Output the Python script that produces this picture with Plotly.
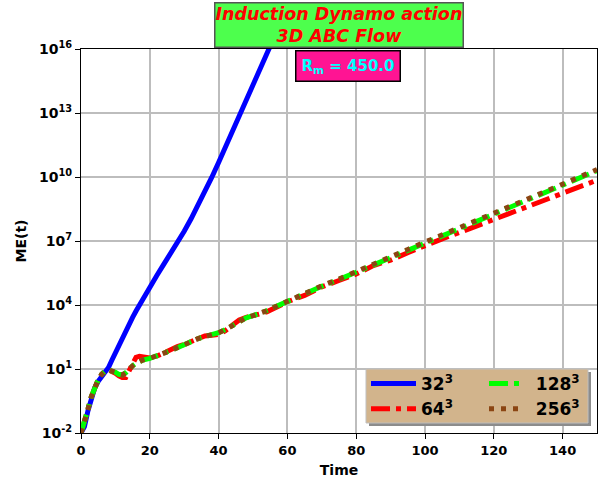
import plotly.graph_objects as go

t_32 = [0, 1, 2, 3, 4, 5, 6, 7, 8, 9, 10, 11, 12, 13, 14, 15, 16, 17, 18, 19, 20,
        22, 24, 26, 28, 30, 32, 34, 36, 38, 40, 42, 44, 46, 48, 50, 52, 54, 56]
log_me_32 = [-2.0, -1.7, -0.97, -0.35, 0.12, 0.42, 0.63, 0.84, 1.07, 1.42, 1.77, 2.12, 2.46,
             2.79, 3.11, 3.42, 3.72, 4.01, 4.29, 4.57, 4.84,
             5.37, 5.89, 6.4, 6.92, 7.46, 8.04, 8.66, 9.31, 9.98, 10.68, 11.4, 12.13,
             12.86, 13.59, 14.32, 15.05, 15.78, 16.5]

t_slow = [0, 1, 2, 3, 4, 5, 6, 7, 8, 9, 10, 11, 12, 13, 14, 15, 16, 17, 18, 20,
          22, 24, 26, 28, 30, 32, 34, 36, 38, 40, 42, 44, 46, 48, 50, 52, 54, 56, 58, 60,
          65, 70, 75, 80, 85, 90, 95, 100, 105, 110, 115, 120, 125, 130, 135, 140, 145, 150]
log_me_64 = [-2.0, -1.5, -0.9, -0.3, 0.15, 0.5, 0.75, 0.9, 0.95, 0.9, 0.8, 0.68, 0.6, 0.6,
             0.9, 1.3, 1.55, 1.6, 1.58, 1.52,
             1.6, 1.75, 1.95, 2.05, 2.15, 2.3, 2.4, 2.55, 2.58, 2.62, 2.8, 3.05, 3.3, 3.42,
             3.48, 3.58, 3.68, 3.85, 4.0, 4.15,
             4.45, 4.85, 5.15, 5.45, 5.85, 6.1, 6.45, 6.8, 7.1, 7.4, 7.7, 8.0, 8.3, 8.6,
             8.9, 9.25, 9.55, 9.85]
log_me_128 = [-2.0, -1.5, -0.9, -0.3, 0.15, 0.5, 0.75, 0.9, 0.95, 0.92, 0.85, 0.75, 0.72,
              0.82, 1.0, 1.15, 1.27, 1.36, 1.42, 1.5,
              1.6, 1.72, 1.86, 2.0, 2.15, 2.3, 2.42, 2.52, 2.6, 2.7, 2.85, 3.05, 3.25, 3.4,
              3.5, 3.6, 3.73, 3.88, 4.03, 4.18,
              4.53, 4.88, 5.2, 5.52, 5.87, 6.22, 6.56, 6.9, 7.23, 7.56, 7.9, 8.25, 8.6,
              8.93, 9.27, 9.62, 9.95, 10.3]
log_me_256 = [-2.0, -1.5, -0.9, -0.3, 0.15, 0.5, 0.75, 0.9, 0.95, 0.92, 0.85, 0.75, 0.72,
              0.82, 1.0, 1.15, 1.27, 1.36, 1.42, 1.5,
              1.6, 1.72, 1.86, 2.0, 2.15, 2.3, 2.42, 2.52, 2.6, 2.7, 2.85, 3.05, 3.25, 3.4,
              3.5, 3.6, 3.73, 3.88, 4.03, 4.18,
              4.55, 4.9, 5.22, 5.55, 5.9, 6.25, 6.6, 6.95, 7.28, 7.6, 7.95, 8.3, 8.65,
              8.98, 9.32, 9.67, 10.0, 10.35]

series_names = ["32<sup>3</sup>", "64<sup>3</sup>", "128<sup>3</sup>", "256<sup>3</sup>"]
y_tick_exps = [-2, 1, 4, 7, 10, 13, 16]
x_tick_vals = [0, 20, 40, 60, 80, 100, 120, 140]

FONT = "DejaVu Sans"
PAD2 = "\u00a0\u00a0"  # spacing between legend symbol and label in 2nd column

def tovals(logs):
    return [10 ** v for v in logs]

DASHDOT = "19px,6px,5px,6px"

fig = go.Figure()
fig.add_trace(go.Scatter(x=t_32, y=tovals(log_me_32), mode="lines", name=series_names[0],
                         line=dict(color="#0000FF", width=5), legend="legend"))
fig.add_trace(go.Scatter(x=t_slow, y=tovals(log_me_64), mode="lines", name=series_names[1],
                         line=dict(color="#FF0000", width=5, dash=DASHDOT),
                         legend="legend"))
fig.add_trace(go.Scatter(x=t_slow, y=tovals(log_me_128), mode="lines",
                         name=PAD2 + series_names[2],
                         line=dict(color="#00FF00", width=5, dash=DASHDOT),
                         legend="legend2"))
fig.add_trace(go.Scatter(x=t_slow, y=tovals(log_me_256), mode="lines",
                         name=PAD2 + series_names[3],
                         line=dict(color="#8B4513", width=5, dash="5px,7px"),
                         legend="legend2"))

W, H = 599, 485
L, R, T, B = 81, 2, 49, 52
pw, ph = W - L - R, H - T - B

def px(xp):
    return (xp - L) / pw

def py(yp):
    return (H - B - yp) / ph

legend_common = dict(bgcolor="rgba(0,0,0,0)", borderwidth=0,
                      font=dict(family=FONT, size=17, color="black", weight="bold"),
                      xanchor="left", yanchor="top", orientation="v",
                      tracegroupgap=0)

fig.update_layout(
    width=W, height=H,
    margin=dict(l=L, r=R, t=T, b=B, autoexpand=False),
    paper_bgcolor="white", plot_bgcolor="white",
    font=dict(family=FONT, color="black"),
    legend=dict(x=px(366), y=py(366), itemwidth=45, **legend_common),
    legend2=dict(x=px(484), y=py(366), **legend_common),
    xaxis=dict(range=[0, 150], tickvals=x_tick_vals, ticks="outside", ticklen=5,
               tickcolor="black", showline=True, linecolor="black", linewidth=1.2,
               mirror=True, showgrid=True, gridcolor="#bdbdbd", gridwidth=1.5,
               zeroline=False,
               tickfont=dict(family=FONT, size=13, color="black", weight="bold"),
               title=dict(text="Time", font=dict(family=FONT, size=14, weight="bold"),
                          standoff=8)),
    yaxis=dict(type="log", range=[-2, 16],
               tickvals=[10 ** e for e in y_tick_exps],
               ticktext=["10<sup>%d</sup>" % e for e in y_tick_exps],
               ticks="outside", ticklen=5, tickcolor="black",
               showline=True, linecolor="black", linewidth=1.2, mirror=True,
               showgrid=True, gridcolor="#bdbdbd", gridwidth=1.5, zeroline=False,
               tickfont=dict(family=FONT, size=14, color="black", weight="bold"),
               title=dict(text="ME(t)", font=dict(family=FONT, size=14, weight="bold"),
                          standoff=9)),
    shapes=[
        dict(type="rect", xref="paper", yref="paper",
             x0=px(369), x1=px(591), y0=py(426), y1=py(372),
             fillcolor="#8c8c8c", line=dict(width=0), layer="above"),
        dict(type="rect", xref="paper", yref="paper",
             x0=px(366), x1=px(588), y0=py(423), y1=py(369),
             fillcolor="#D2B48C", line=dict(color="#bfbfbf", width=1), layer="above"),
    ],
    annotations=[
        dict(text="<b><i>Induction Dynamo action<br>3D ABC Flow</i></b>",
             xref="paper", yref="paper", x=0.5, y=py(25.5), xanchor="center",
             yanchor="middle", showarrow=False,
             font=dict(family=FONT, size=17.5, color="#FF0000"),
             bgcolor="#4DFF4D", bordercolor="#555555", borderwidth=1.5, borderpad=0),
        dict(text="<b>R<sub>m</sub> = 450.0</b>",
             xref="paper", yref="paper", x=px(347.5), y=py(66.5), xanchor="center",
             yanchor="middle", showarrow=False,
             font=dict(family=FONT, size=15, color="#00FFFF"),
             bgcolor="#FF1493", bordercolor="#000000", borderwidth=1.5, borderpad=5),
    ],
)

fig.write_html("out.html")
